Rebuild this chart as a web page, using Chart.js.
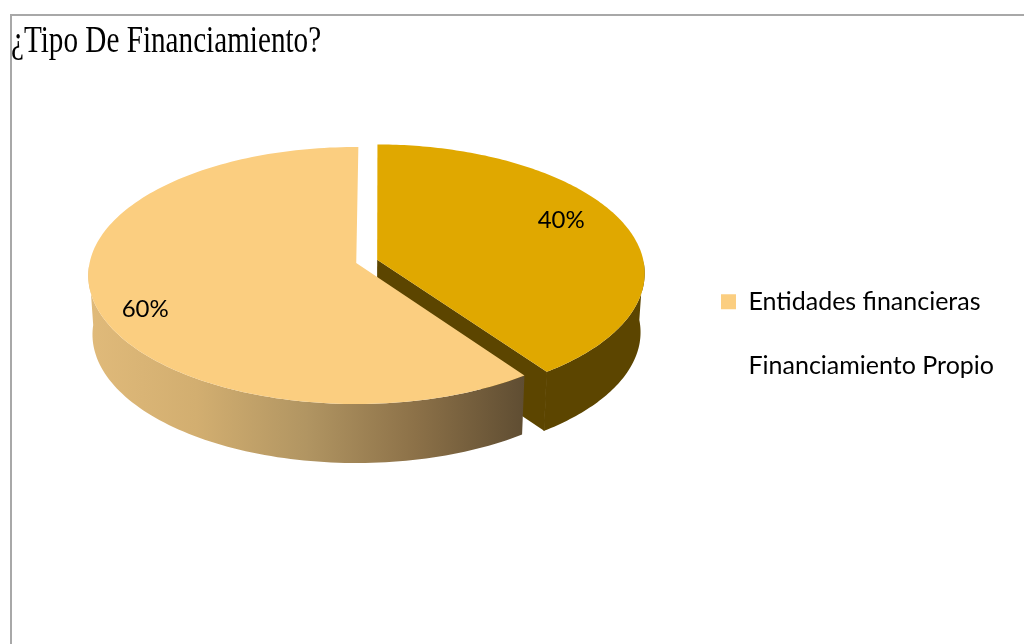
<!DOCTYPE html>
<html lang="es">
<head>
<meta charset="utf-8">
<title>¿Tipo De Financiamiento?</title>
<script src="https://cdn.jsdelivr.net/npm/chart.js@4"></script>
<style>
  html, body { margin: 0; width: 1024px; height: 644px; overflow: hidden; background: #fff; }
  #frame { position: absolute; left: 10px; top: 14px; width: 1030px; height: 650px; border: 2px solid #a8a8a8; box-sizing: border-box; }
  #title { position: absolute; left: 11px; top: 17px; margin: 0; font: 400 38px "Liberation Serif", serif; color: #000; white-space: nowrap; transform: scaleX(0.768); transform-origin: left top; }
  canvas { position: absolute; left: 0; top: 0; }
</style>
</head>
<body>
<div id="frame"></div>
<canvas id="pie" width="1024" height="644"></canvas>
<h1 id="title">¿Tipo De Financiamiento?</h1>
<script>
const categories = ["Entidades financieras", "Financiamiento Propio"];
const shares = [60, 40];
const topColors = ["#fbce80", "#e0a800"];
const legendColors = ["#fbce80", "#ffffff"];

// tilt of the disc
const RADIUS = 266.7;
const SQUASH = 0.4773;
const PERSPECTIVE = 0.0973;
const DEPTH = 59;
const BASE_SCALE = 0.985;
const BASE_VANISH_X = 368;

function project(el, u, v, base) {
  const w = 1 - PERSPECTIVE * v;
  let x = el.x + RADIUS * u / w;
  let y = el.y + RADIUS * SQUASH * v / w;
  if (base) {
    x = BASE_VANISH_X + (x - BASE_VANISH_X) * BASE_SCALE;
    y += DEPTH;
  }
  return [x, y];
}

// points of one slice rim, pushed out along its bisector by the arc offset
function rim(el, base) {
  const mid = (el.startAngle + el.endAngle) / 2;
  const off = (el.options.offset || 0) / RADIUS;
  const du = Math.cos(mid) * off, dv = Math.sin(mid) * off;
  const pts = [];
  for (let i = 0; i <= 160; i++) {
    const a = el.startAngle + (el.endAngle - el.startAngle) * i / 160;
    pts.push(project(el, Math.cos(a) + du, Math.sin(a) + dv, base));
  }
  return { pts, apex: project(el, du, dv, base) };
}

function fillPath(ctx, pts, style) {
  ctx.beginPath();
  pts.forEach((p, i) => i ? ctx.lineTo(p[0], p[1]) : ctx.moveTo(p[0], p[1]));
  ctx.closePath();
  ctx.fillStyle = style;
  ctx.fill();
}

function wallStyle(ctx, index, pts) {
  if (index === 1) return "#5c4500";
  const xs = pts.map(p => p[0]);
  const g = ctx.createLinearGradient(Math.min(...xs), 0, Math.max(...xs), 0);
  g.addColorStop(0, "#e0ba7a");
  g.addColorStop(0.25, "#d2ae70");
  g.addColorStop(0.5, "#b19562");
  g.addColorStop(0.75, "#8c7148");
  g.addColorStop(1, "#5f4d32");
  return g;
}

const disc3d = {
  id: "disc3d",
  afterLayout(chart) {
    const lg = chart.legend;
    lg.top += 71;
    lg.bottom += 71;
  },
  // faces are painted here from the arc elements, back slice first
  beforeDatasetDraw(chart) {
    const ctx = chart.ctx;
    const arcs = chart.getDatasetMeta(0).data;
    ctx.save();
    [1, 0].forEach(i => {
      const el = arcs[i];
      const top = rim(el, false), bot = rim(el, true);
      // only the part of the rim nearer than the apex can show a wall
      const front = top.pts.map((p, k) => k).filter(k => top.pts[k][1] > top.apex[1]);
      const upper = front.map(k => top.pts[k]);
      const lower = front.map(k => bot.pts[k]);
      const wall = upper.concat(lower.reverse());
      const style = wallStyle(ctx, i, wall);
      if (i === 1) {
        // cut face of the pulled-out slice, the other one faces away
        fillPath(ctx, [top.apex, top.pts[160], bot.pts[160], bot.apex], style);
        ctx.beginPath();
        ctx.moveTo(top.pts[160][0], top.pts[160][1]);
        ctx.lineTo(bot.pts[160][0], bot.pts[160][1]);
        ctx.strokeStyle = style;
        ctx.lineWidth = 1;
        ctx.stroke();
      }
      fillPath(ctx, wall, style);
      fillPath(ctx, [top.apex].concat(top.pts), el.options.backgroundColor);
    });
    ctx.restore();
    return false;
  },
  afterDatasetsDraw(chart) {
    const ctx = chart.ctx;
    const arcs = chart.getDatasetMeta(0).data;
    const nudge = [[-8, 16], [-9, -11]];
    ctx.save();
    ctx.font = '24px Lato, sans-serif';
    ctx.fillStyle = "#000";
    ctx.textAlign = "center";
    ctx.textBaseline = "middle";
    arcs.forEach((el, i) => {
      const mid = (el.startAngle + el.endAngle) / 2;
      const off = (el.options.offset || 0) / RADIUS;
      const p = project(el, Math.cos(mid) * (0.78 + off), Math.sin(mid) * (0.78 + off), false);
      ctx.fillText(shares[i] + "%", p[0] + nudge[i][0], p[1] + nudge[i][1]);
    });
    ctx.restore();
  }
};

// keeps "fi" from joining in the legend text
document.getElementById("pie").getContext("2d").letterSpacing = "0.01px";

new Chart(document.getElementById("pie"), {
  type: "pie",
  data: {
    labels: categories,
    datasets: [{ data: shares, backgroundColor: topColors, borderWidth: 0, offset: [0, 22] }]
  },
  options: {
    responsive: false,
    animation: false,
    events: [],
    rotation: 144.5,
    radius: RADIUS,
    layout: { padding: { left: 31, right: 20, top: 0, bottom: 118 } },
    plugins: {
      tooltip: { enabled: false },
      legend: {
        position: "right",
        labels: {
          boxWidth: 15,
          boxHeight: 15,
          padding: 39.5,
          color: "#000",
          font: { family: "Lato, sans-serif", size: 25 },
          generateLabels: () => categories.map((text, i) => ({
            text, index: i, fillStyle: legendColors[i], strokeStyle: legendColors[i], lineWidth: 0
          }))
        }
      }
    }
  },
  plugins: [disc3d]
});
</script>
</body>
</html>
